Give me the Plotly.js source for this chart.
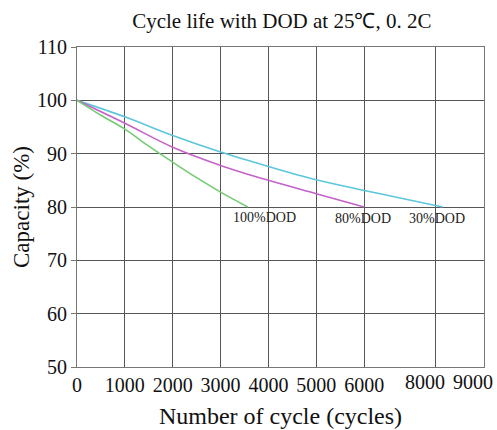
<!DOCTYPE html>
<html>
<head>
<meta charset="utf-8">
<script src="https://cdn.plot.ly/plotly-3.0.1.min.js"></script>
<style>html,body{margin:0;padding:0;background:#fff;}#chart{width:497px;height:430px;}</style>
</head>
<body>
<div id="chart"></div>
<script>
// x positions are in the chart's drawn axis units (the axis is irregular: "8000" sits at 7500, "9000" at 8500)
const tickPositions = [0, 1000, 2000, 3000, 4000, 5000, 6000, 7500, 8500];
const tickLabels = ['0', '1000', '2000', '3000', '4000', '5000', '6000', '8000', '9000'];

const dod100X = [0, 500, 1000, 1500, 2000, 2500, 3000, 3570];
const dod100Y = [100, 97.2, 94.6, 91.4, 88.4, 85.5, 82.8, 80];

const dod80X = [0, 1000, 2000, 3000, 4000, 5000, 6000];
const dod80Y = [100, 95.7, 91.2, 87.8, 85.0, 82.5, 80];

const dod30X = [0, 1000, 2000, 3000, 4000, 5000, 6000, 6750, 7640];
const dod30Y = [100, 96.9, 93.4, 90.3, 87.6, 85.1, 83.1, 81.7, 80];

const labelText = ['100%DOD', '80%DOD', '30%DOD'];
const labelX = [3925, 5970, 7517];
const labelY = [78.0, 77.8, 77.8];

const serif = 'Liberation Serif, Times New Roman, serif';
const nShifted = 2; // the last two labels sit a little left of their gridlines in the reference
const axisLabels = tickLabels.map((t, i) => i >= tickLabels.length - nShifted ? '' : t);

const traces = [
  {x: dod30X, y: dod30Y, mode: 'lines', line: {color: '#5cc6dc', width: 1.6, shape: 'spline'}, hoverinfo: 'skip'},
  {x: dod80X, y: dod80Y, mode: 'lines', line: {color: '#c462c8', width: 1.6, shape: 'spline'}, hoverinfo: 'skip'},
  {x: dod100X, y: dod100Y, mode: 'lines', line: {color: '#74cc72', width: 1.6, shape: 'spline'}, hoverinfo: 'skip'}
];

const annotations = labelText.map((t, i) => ({
  x: labelX[i], y: labelY[i], xref: 'x', yref: 'y', text: t, showarrow: false,
  font: {family: serif, size: 14, color: '#222'}
}));
tickLabels.forEach((t, i) => {
  if (i >= tickLabels.length - nShifted) {
    annotations.push({
      x: tickPositions[i], y: 0, xref: 'x', yref: 'paper', text: t, showarrow: false,
      xanchor: 'center', yanchor: 'top', xshift: -11, yshift: -2,
      font: {family: serif, size: 20, color: '#111'}
    });
  }
});

const layout = {
  width: 497, height: 430,
  margin: {l: 77, r: 13, t: 47, b: 63},
  paper_bgcolor: '#fff', plot_bgcolor: '#fff',
  showlegend: false,
  title: {text: 'Cycle life with DOD at 25℃, 0. 2C', font: {family: serif, size: 21, color: '#111'}, x: 0.567, xanchor: 'center', y: 0.952, yanchor: 'middle'},
  xaxis: {
    range: [0, 8504], tickvals: tickPositions, ticktext: axisLabels, tickmode: 'array', tickangle: 0,
    showgrid: true, gridcolor: '#555', gridwidth: 1,
    showline: true, linecolor: '#777', linewidth: 1, mirror: true,
    ticks: '', zeroline: false,
    tickfont: {family: serif, size: 20, color: '#111'},
    title: {text: 'Number of cycle (cycles)', font: {family: serif, size: 24, color: '#111'}, standoff: 12}
  },
  yaxis: {
    range: [50, 110], tickvals: [50, 60, 70, 80, 90, 100, 110], tickmode: 'array',
    showgrid: true, gridcolor: '#555', gridwidth: 1,
    showline: true, linecolor: '#777', linewidth: 1, mirror: true,
    ticks: 'outside', ticklen: 5, tickcolor: '#777', zeroline: false,
    tickfont: {family: serif, size: 20, color: '#111'},
    title: {text: 'Capacity (%)', font: {family: serif, size: 23, color: '#111'}, standoff: 0}
  },
  annotations: annotations
};

Plotly.newPlot('chart', traces, layout, {displayModeBar: false, staticPlot: true});
</script>
</body>
</html>
